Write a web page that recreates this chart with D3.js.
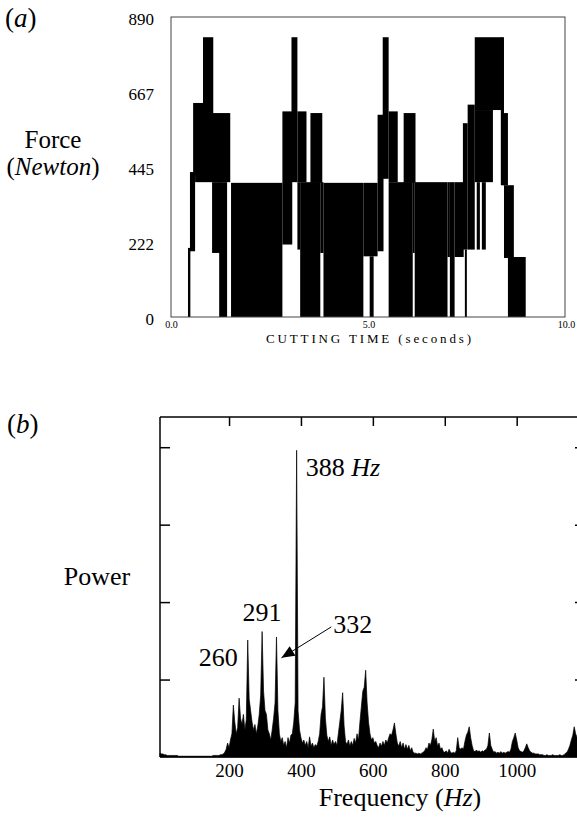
<!DOCTYPE html>
<html>
<head>
<meta charset="utf-8">
<script src="https://cdn.jsdelivr.net/npm/d3@7"></script>
<style>
  body { margin: 0; background: #fff; }
  svg { display: block; }
  text { font-family: "Liberation Serif", "Times New Roman", serif; fill: #000; }
</style>
</head>
<body>
<script>
// ---- panel (a): cutting force ----
var forceTicks = [0, 222, 445, 667, 890];
var timeTicks = [0, 5, 10];
// black bands of the force trace: [t start, t end, force low, force high]
var forceBands = [
  [0.43, 0.49, 0, 205], [0.48, 0.61, 195, 430], [0.56, 0.81, 420, 635],
  [0.81, 1.07, 595, 830], [0.61, 1.50, 400, 605], [1.04, 1.24, 190, 400],
  [1.22, 1.42, 0, 400], [1.52, 2.82, 0, 398],
  [2.82, 3.07, 215, 610], [3.05, 3.20, 400, 830], [3.20, 3.43, 400, 610],
  [3.20, 3.27, 200, 400], [3.27, 3.78, 0, 400], [3.53, 3.83, 398, 605],
  [3.78, 3.86, 190, 400], [3.86, 4.87, 0, 398], [4.87, 5.23, 180, 398],
  [5.03, 5.13, 0, 180],
  [5.23, 5.38, 195, 600], [5.36, 5.51, 410, 830], [5.51, 5.74, 400, 610],
  [5.51, 6.12, 0, 400], [5.89, 6.19, 398, 605], [6.12, 6.17, 190, 400],
  [6.17, 7.00, 0, 400], [7.00, 7.06, 178, 400], [7.06, 7.18, 0, 400],
  [7.18, 7.41, 178, 400],
  [7.39, 7.51, 200, 575], [7.44, 7.49, 0, 200], [7.51, 7.69, 200, 630],
  [7.69, 8.38, 614, 830], [7.69, 8.15, 400, 614], [7.74, 7.82, 200, 400],
  [7.87, 7.97, 200, 400], [8.35, 8.43, 391, 830], [8.38, 8.53, 391, 605],
  [8.43, 8.68, 175, 391], [8.53, 8.98, 0, 178]
];

// ---- panel (b): power spectrum ----
var freqTicks = [200, 400, 600, 800, 1000];
var powerTicks = [1, 2, 3, 4];
var specStartHz = 8, specStepHz = 4;
var specPower = [
  0.05,0.04,0.04,0.03,0.03,0.02,0.02,0.02,0.02,0.02,
  0.02,0.02,0.02,0.01,0.01,0.01,0.01,0.01,0.01,0.01,
  0.01,0.01,0.01,0.01,0.01,0.01,0.01,0.01,0.01,0.01,
  0.01,0.01,0.01,0.01,0.01,0.01,0.01,0.02,0.02,0.02,
  0.02,0.02,0.03,0.03,0.04,0.06,
  0.1,0.18,0.12,0.22,0.3,0.67,0.45,0.3,0.38,0.76,
  0.5,0.42,0.55,0.35,0.48,1.51,0.75,0.6,0.45,0.35,
  0.42,0.3,0.4,0.55,0.8,1.62,0.85,0.6,0.55,0.35,
  0.3,0.22,0.35,0.5,0.7,1.55,0.6,0.3,0.2,0.25,
  0.15,0.2,0.12,0.25,0.18,0.28,0.3,0.45,0.7,3.96,
  0.6,0.35,0.25,0.18,0.22,0.15,0.2,0.12,0.26,0.14,
  0.18,0.12,0.16,0.14,0.2,0.3,0.55,0.65,1.03,0.5,
  0.28,0.2,0.26,0.15,0.22,0.16,0.2,0.15,0.3,0.45,
  0.6,0.83,0.4,0.2,0.16,0.22,0.14,0.2,0.15,0.24,
  0.18,0.3,0.22,0.45,0.65,0.85,0.9,1.12,0.7,0.45,
  0.3,0.22,0.25,0.18,0.2,0.15,0.12,0.18,0.14,0.2,
  0.15,0.22,0.18,0.25,0.3,0.28,0.35,0.44,0.3,0.18,
  0.14,0.2,0.12,0.18,0.1,0.16,0.1,0.15,0.08,0.12,
  0.06,0.05,0.05,0.04,0.05,0.04,0.05,0.06,0.08,0.12,
  0.1,0.18,0.15,0.22,0.36,0.2,0.25,0.14,0.18,0.1,
  0.12,0.07,0.06,0.08,0.05,0.1,0.06,0.05,0.06,0.05,
  0.08,0.25,0.12,0.1,0.12,0.1,0.2,0.28,0.32,0.39,
  0.25,0.15,0.08,0.07,0.09,0.07,0.08,0.06,0.08,0.07,
  0.09,0.1,0.15,0.31,0.15,0.1,0.06,0.07,0.05,0.06,
  0.05,0.07,0.05,0.06,0.05,0.06,0.07,0.06,0.1,0.2,
  0.25,0.31,0.22,0.12,0.08,0.07,0.06,0.08,0.12,0.17,
  0.12,0.08,0.06,0.05,0.05,0.04,0.04,0.04,0.03,0.03,
  0.03,0.02,0.02,0.03,0.02,0.02,0.02,0.03,0.02,0.02,
  0.02,0.02,0.03,0.02,0.02,0.03,0.05,0.06,0.1,0.15,
  0.22,0.28,0.39,0.3,0.25,0.2,0.15,0.1,0.08,0.06
];

var serif = '"Liberation Serif", "Times New Roman", serif';

var svg = d3.select("body").append("svg")
  .attr("width", 577)
  .attr("height", 821);

// ================= panel (a) =================
var xT = d3.scaleLinear().domain([0, 10]).range([171, 566]);
var yF = d3.scaleLinear().domain([0, 890]).range([317, 17]);

svg.append("g")
  .selectAll("rect")
  .data(forceBands)
  .enter()
  .append("rect")
  .attr("x", function(d) { return xT(d[0]); })
  .attr("y", function(d) { return yF(d[3]); })
  .attr("width", function(d) { return xT(d[1]) - xT(d[0]); })
  .attr("height", function(d) { return yF(d[2]) - yF(d[3]); })
  .style("fill", "#000");

svg.append("rect")
  .attr("x", xT(0)).attr("y", yF(890))
  .attr("width", 565 - xT(0)).attr("height", yF(0) - yF(890))
  .style("fill", "none").style("stroke", "#444").style("stroke-width", 1);

var axF = svg.append("g")
  .attr("transform", "translate(" + (xT(0) - 15) + ",2)")
  .call(d3.axisLeft(yF).tickValues(forceTicks).tickSize(0).tickPadding(2));
axF.select(".domain").remove();
axF.selectAll("text").style("font-size", "17px").style("font-family", serif);

var axT = svg.append("g")
  .attr("transform", "translate(0," + yF(0) + ")")
  .call(d3.axisBottom(xT).tickValues(timeTicks).tickSize(0).tickPadding(4)
    .tickFormat(d3.format(".1f")));
axT.select(".domain").remove();
axT.selectAll("text").style("font-size", "10px").style("font-family", serif);

svg.append("text")
  .attr("x", xT(5)).attr("y", 343)
  .attr("text-anchor", "middle")
  .attr("textLength", 205).attr("lengthAdjust", "spacing")
  .style("font-size", "13px")
  .text("CUTTING TIME (seconds)");

svg.append("text").attr("x", 5).attr("y", 27).style("font-size", "27px")
  .html('(<tspan font-style="italic">a</tspan>)');
svg.append("text").attr("x", 53).attr("y", 148)
  .attr("text-anchor", "middle").style("font-size", "25px").text("Force");
svg.append("text").attr("x", 53).attr("y", 175)
  .attr("text-anchor", "middle").style("font-size", "25px")
  .html('(<tspan font-style="italic">Newton</tspan>)');

// ================= panel (b) =================
var xH = d3.scaleLinear().domain([8, 1190]).range([160, 585]);
var yP = d3.scaleLinear().domain([0, 4.39]).range([757, 417]);

var spec = specPower.map(function(p, i) {
  return { f: specStartHz + i * specStepHz, p: p };
});

var area = d3.area()
  .x(function(d) { return xH(d.f); })
  .y0(yP(0))
  .y1(function(d) { return yP(d.p); });

svg.append("path")
  .datum(spec)
  .attr("d", area)
  .style("fill", "#000")
  .style("stroke", "#000")
  .style("stroke-width", 0.7);

var frame = svg.append("g").style("stroke", "#000").style("stroke-width", 1.5);
frame.append("line").attr("x1", xH.range()[0]).attr("x2", xH.range()[0])
  .attr("y1", yP.range()[1]).attr("y2", yP.range()[0]);
frame.append("line").attr("x1", xH.range()[0]).attr("x2", xH.range()[1])
  .attr("y1", yP.range()[1]).attr("y2", yP.range()[1]);
frame.append("line").attr("x1", xH.range()[0]).attr("x2", xH.range()[1])
  .attr("y1", yP.range()[0]).attr("y2", yP.range()[0]);
frame.append("line").attr("x1", xH.range()[1]).attr("x2", xH.range()[1])
  .attr("y1", yP.range()[1]).attr("y2", yP.range()[0]);

var tickStyle = function(g) {
  g.select(".domain").remove();
  g.selectAll("line").style("stroke", "#000").style("stroke-width", 1.5);
};
svg.append("g").attr("transform", "translate(0," + yP.range()[1] + ")")
  .call(d3.axisTop(xH).tickValues(freqTicks).tickSize(-9).tickFormat(""))
  .call(tickStyle);
svg.append("g").attr("transform", "translate(" + xH.range()[0] + ",0)")
  .call(d3.axisLeft(yP).tickValues(powerTicks).tickSize(-10).tickFormat(""))
  .call(tickStyle);
svg.append("g").attr("transform", "translate(" + xH.range()[1] + ",0)")
  .call(d3.axisRight(yP).tickValues(powerTicks).tickSize(-10).tickFormat(""))
  .call(tickStyle);

var axH = svg.append("g").attr("transform", "translate(0," + yP(0) + ")")
  .call(d3.axisBottom(xH).tickValues(freqTicks).tickSize(0).tickPadding(7)
    .tickFormat(d3.format("d")));
axH.select(".domain").remove();
axH.selectAll("text").style("font-size", "19px").style("font-family", serif);

svg.append("text").attr("x", 400).attr("y", 806)
  .attr("text-anchor", "middle").style("font-size", "26px")
  .html('Frequency (<tspan font-style="italic">Hz</tspan>)');
svg.append("text").attr("x", 97).attr("y", 585)
  .attr("text-anchor", "middle").style("font-size", "26px").text("Power");
svg.append("text").attr("x", 7).attr("y", 433).style("font-size", "27px")
  .html('(<tspan font-style="italic">b</tspan>)');

// peak annotations
svg.append("text").attr("x", xH(388) + 9).attr("y", yP(3.63))
  .style("font-size", "26px")
  .html('388 <tspan font-style="italic">Hz</tspan>');
svg.append("text").attr("x", xH(292)).attr("y", yP(1.75))
  .attr("text-anchor", "middle").style("font-size", "26px").text("291");
svg.append("text").attr("x", xH(252) - 10).attr("y", yP(1.17))
  .attr("text-anchor", "end").style("font-size", "26px").text("260");
svg.append("text").attr("x", xH(490)).attr("y", yP(1.6))
  .style("font-size", "26px").text("332");

// arrow from the 332 label to its peak
var tail = [xH(490) - 2, yP(1.68)];
var tip = [xH(332) + 5, yP(1.28)];
svg.append("line")
  .attr("x1", tail[0]).attr("y1", tail[1])
  .attr("x2", tip[0]).attr("y2", tip[1])
  .style("stroke", "#000").style("stroke-width", 1);
var ang = Math.atan2(tip[1] - tail[1], tip[0] - tail[0]);
var hl = 13, hw = 5.5;
var bx = tip[0] - hl * Math.cos(ang), by = tip[1] - hl * Math.sin(ang);
svg.append("path")
  .attr("d", "M" + tip[0] + "," + tip[1] +
    "L" + (bx + hw * Math.sin(ang)) + "," + (by - hw * Math.cos(ang)) +
    "L" + (bx - hw * Math.sin(ang)) + "," + (by + hw * Math.cos(ang)) + "Z")
  .style("fill", "#000");
</script>
</body>
</html>
